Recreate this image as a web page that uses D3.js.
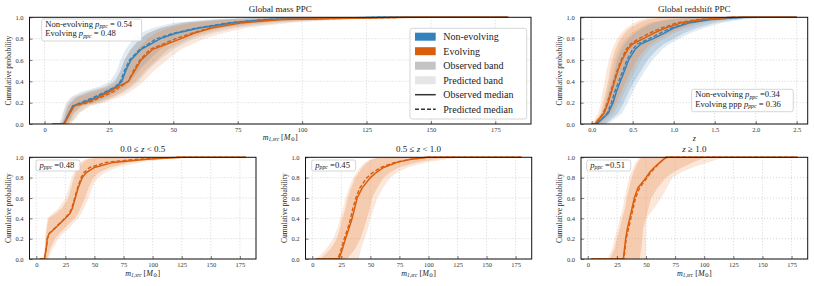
<!DOCTYPE html>
<html>
<head>
<meta charset="utf-8">
<script src="https://cdn.jsdelivr.net/npm/d3@7"></script>
<style>
  body { margin: 0; background: #fff; }
  svg { font-family: "Liberation Serif", "DejaVu Serif", serif; }
</style>
</head>
<body>
<script>
// ---- data ----
// global mass PPC, probability levels and the mass at each level
const massRange = [3, 180];
const massP = [0, 0.05, 0.1, 0.17, 0.2, 0.25, 0.3, 0.35, 0.4, 0.5, 0.6, 0.7, 0.8, 0.85, 0.9, 0.95, 0.98, 1];
const massNonObs = [7.5, 8.5, 9.5, 11, 15, 20, 24, 28, 30, 31.5, 33.5, 37.5, 45, 51, 60, 73, 87, 130];
const massNonPred = [7.5, 8.5, 9.5, 11, 14, 19, 23.5, 27.5, 29.5, 31, 33, 37, 43.5, 50, 59, 72, 86, 130];
const massNonObsLo = [6.5, 7.5, 8, 9, 10, 12, 17, 24, 27.5, 29.5, 31, 33.5, 37, 40, 45, 54, 68, 90];
const massNonObsHi = [8.5, 10, 11, 14, 19, 24, 28, 31, 33.5, 36.5, 40.5, 45, 52, 58, 66, 82, 100, 150];
const massNonPredLo = [5.5, 6.5, 7, 8, 8.5, 10, 14, 21, 25.5, 28, 29.5, 31.5, 34.5, 37, 42, 50, 63, 82];
const massNonPredHi = [9.5, 11.5, 13, 17, 22, 27, 31, 34, 36.5, 40, 44.5, 50, 58, 65, 74, 92, 112, 165];
const massEvoObs = [7.5, 8.7, 9.8, 11.5, 16, 21, 25, 28.5, 32.5, 35, 37.5, 42, 53, 58, 65, 77, 92, 140];
const massEvoPred = [7.5, 8.7, 9.8, 11.5, 17, 22, 26.5, 29.5, 32.5, 34.5, 37, 41, 51, 57, 64, 76, 91, 140];
const massEvoObsLo = [6.8, 7.8, 8.3, 9.3, 10.5, 13, 19, 26, 29, 31.5, 33, 36, 40, 43, 48, 57, 72, 95];
const massEvoObsHi = [9, 10.5, 11.5, 15, 20, 26, 30, 33, 35.5, 39, 43.5, 48, 56, 62, 70, 86, 105, 155];
const massEvoPredLo = [5.8, 6.8, 7.3, 8.3, 9, 11, 16, 23, 27, 29.5, 31, 33.5, 37, 40, 45, 53, 67, 88];
const massEvoPredHi = [10, 12, 13.5, 18, 23, 29, 33, 36, 38.5, 42.5, 47.5, 53, 62, 69, 78, 96, 116, 170];

// global redshift PPC
const zRange = [0, 2.5];
const zP = [0, 0.1, 0.2, 0.3, 0.4, 0.5, 0.6, 0.7, 0.75, 0.8, 0.85, 0.9, 0.95, 0.98, 1];
const zNonObs = [0.06, 0.2, 0.26, 0.3, 0.35, 0.4, 0.45, 0.53, 0.6, 0.75, 0.88, 1.0, 1.2, 1.45, 1.85];
const zNonPred = [0.06, 0.19, 0.24, 0.28, 0.33, 0.38, 0.43, 0.5, 0.56, 0.7, 0.83, 0.97, 1.17, 1.42, 1.85];
const zNonObsLo = [0.04, 0.14, 0.18, 0.21, 0.25, 0.28, 0.31, 0.36, 0.4, 0.45, 0.52, 0.62, 0.75, 0.95, 1.3];
const zNonObsHi = [0.17, 0.32, 0.39, 0.45, 0.52, 0.6, 0.68, 0.8, 0.88, 1.0, 1.12, 1.28, 1.5, 1.75, 2.1];
const zNonPredLo = [0.02, 0.12, 0.16, 0.19, 0.22, 0.25, 0.28, 0.33, 0.36, 0.41, 0.48, 0.58, 0.7, 0.9, 1.2];
const zNonPredHi = [0.2, 0.37, 0.44, 0.5, 0.57, 0.65, 0.74, 0.86, 0.95, 1.07, 1.2, 1.37, 1.6, 1.85, 2.2];
const zEvoObs = [0.04, 0.15, 0.2, 0.24, 0.28, 0.32, 0.37, 0.44, 0.5, 0.63, 0.75, 0.9, 1.1, 1.35, 1.7];
const zEvoPred = [0.04, 0.14, 0.19, 0.23, 0.27, 0.31, 0.36, 0.42, 0.47, 0.58, 0.7, 0.85, 1.05, 1.3, 1.7];
const zEvoObsLo = [0.02, 0.11, 0.14, 0.17, 0.2, 0.22, 0.25, 0.29, 0.32, 0.35, 0.4, 0.47, 0.58, 0.68, 0.85];
const zEvoObsHi = [0.1, 0.23, 0.3, 0.36, 0.42, 0.48, 0.55, 0.65, 0.72, 0.82, 0.95, 1.1, 1.3, 1.55, 1.9];
const zEvoPredLo = [0.0, 0.08, 0.11, 0.13, 0.16, 0.18, 0.21, 0.25, 0.28, 0.31, 0.36, 0.42, 0.52, 0.6, 0.72];
const zEvoPredHi = [0.13, 0.27, 0.34, 0.4, 0.46, 0.53, 0.6, 0.7, 0.78, 0.88, 1.0, 1.17, 1.38, 1.65, 2.0];

// mass PPC in redshift bins (evolving model only)
const binLowP = [0, 0.1, 0.2, 0.25, 0.3, 0.4, 0.45, 0.5, 0.6, 0.7, 0.75, 0.8, 0.85, 0.9, 0.95, 0.98, 1];
const binLowObs = [7, 8.5, 9.5, 11, 16, 25, 29, 31, 33.5, 36, 37.7, 39.5, 43, 50, 66, 95, 125];
const binLowPred = [7, 8.5, 9.5, 11, 15.5, 24.5, 28.5, 30.5, 33, 35.5, 37, 38.5, 41, 46, 60, 85, 120];
const binLowObsLo = [6.5, 7.5, 8, 8.5, 9, 10.5, 17, 22, 27.5, 30, 31, 32.5, 34, 36.5, 40, 44, 55];
const binLowObsHi = [9.5, 12, 16, 20, 24, 33, 36, 38, 42, 45, 47, 49, 54, 63, 80, 100, 140];
const binLowPredLo = [6, 7, 7.5, 8, 8.5, 9.5, 14, 19, 25, 28, 29, 30.5, 32, 34, 37, 42, 50];
const binLowPredHi = [10.5, 14, 19, 23, 28, 36, 39, 41, 45, 48, 50, 53, 59, 69, 88, 110, 150];

const binP = [0, 0.1, 0.2, 0.3, 0.4, 0.5, 0.6, 0.7, 0.8, 0.85, 0.9, 0.95, 0.98, 1];
const binMidObs = [23, 26, 28.6, 31.5, 34.3, 36.5, 38.6, 43, 50, 55, 61.4, 73, 85, 99];
const binMidPred = [22, 25, 27.5, 30.5, 33, 35, 37.5, 41, 47, 52, 59, 71, 84, 99];
const binMidObsLo = [7, 16, 21, 24, 26, 28.6, 30.5, 33.5, 37, 40, 43, 47, 52, 58];
const binMidObsHi = [30, 37, 41.4, 44.5, 47.1, 49.5, 51.4, 56, 61.4, 67, 74.3, 90, 105, 124];
const binMidPredLo = [4, 12, 18, 21.5, 24, 26.5, 28.5, 31.5, 35, 38, 41, 45, 50, 55];
const binMidPredHi = [40, 42, 45, 48, 50, 53, 56, 61, 67, 73, 82, 98, 115, 135];

const binHighObs = [30.5, 31.5, 32.5, 34, 36, 38, 40, 43, 50, 53, 57, 62, 65, 67];
const binHighPred = [31, 32, 33, 35, 37, 39, 41, 44.5, 51, 54, 58, 62, 65, 68];
const binHighObsLo = [19, 23, 25, 27.5, 29.5, 32, 33.5, 35.5, 37.6, 39, 41, 43, 45, 46];
const binHighObsHi = [44.5, 46, 46.8, 47.4, 50, 52, 54.5, 60, 67, 73, 81, 90, 97, 101];
const binHighPredLo = [17, 21, 23, 25.5, 27.5, 30, 31.5, 33.5, 35.5, 37, 39, 41, 43, 44];
const binHighPredHi = [50, 50, 50, 50, 50.5, 57, 63, 68, 72.6, 80, 90, 103, 112, 118];

const massTicks = [0, 25, 50, 75, 100, 125, 150, 175];
const zTicks = [0, 0.5, 1.0, 1.5, 2.0, 2.5];
const probTicks = [0, 0.2, 0.4, 0.6, 0.8, 1.0];
const legendLabels = ["Non-evolving", "Evolving", "Observed band", "Predicted band", "Observed median", "Predicted median"];

const blue = "#3182bd";
const orange = "#d95f0e";
const blueBand = "#6d9cc0";
const orangeBand = "#ec8a4c";

// ---- drawing ----
const w = 814, h = 286;
const svg = d3.select("body").append("svg")
  .attr("width", w)
  .attr("height", h);

// text with italic pieces and subscripts
function richText(g, x, y, parts, size, anchor) {
  const t = g.append("text")
    .attr("x", x).attr("y", y)
    .attr("font-size", size)
    .attr("fill", "#222")
    .attr("text-anchor", anchor || "start");
  let sub = false;
  parts.forEach(p => {
    const s = t.append("tspan").text(p.t);
    if (p.i) s.attr("font-style", "italic");
    if (p.sub) {
      s.attr("font-size", size * 0.68);
      if (!sub) s.attr("dy", size * 0.18);
      sub = true;
    } else if (sub) {
      s.attr("dy", -size * 0.18);
      sub = false;
    }
  });
  return t;
}

const massLabel = [{t: "m", i: true}, {t: "1,src", i: true, sub: true}, {t: " ["}, {t: "M", i: true}, {t: "⊙", sub: true}, {t: "]"}];

let clipId = 0;
function panel(cfg) {
  const g = svg.append("g");
  const x = d3.scaleLinear().domain(cfg.xDomain).range([cfg.left, cfg.right]);
  const y = d3.scaleLinear().domain([0, 1]).range([cfg.bottom, cfg.top]);

  // grid
  g.selectAll(".gx").data(cfg.xTicks).enter().append("line")
    .attr("x1", d => x(d)).attr("x2", d => x(d))
    .attr("y1", cfg.top).attr("y2", cfg.bottom)
    .attr("stroke", "#bbb").attr("stroke-width", 0.6).attr("stroke-dasharray", "1,2");
  g.selectAll(".gy").data(probTicks).enter().append("line")
    .attr("x1", cfg.left).attr("x2", cfg.right)
    .attr("y1", d => y(d)).attr("y2", d => y(d))
    .attr("stroke", "#bbb").attr("stroke-width", 0.6).attr("stroke-dasharray", "1,2");

  clipId++;
  svg.append("clipPath").attr("id", "clip" + clipId)
    .append("rect").attr("x", cfg.left).attr("y", cfg.top - 2)
    .attr("width", cfg.right - cfg.left).attr("height", cfg.bottom - cfg.top + 2);
  const plot = g.append("g").attr("clip-path", "url(#clip" + clipId + ")");

  const area = d3.area()
    .y(d => y(d.p)).x0(d => x(d.lo)).x1(d => x(d.hi));
  const line = d3.line().x(d => x(d.v)).y(d => y(d.p));

  const band = (lo, hi) => cfg.P.map((p, i) => ({p: p, lo: lo[i], hi: hi[i]}));
  const curve = (v) => [{v: cfg.range[0], p: 0}]
    .concat(cfg.P.map((p, i) => ({v: v[i], p: p})))
    .concat([{v: cfg.range[1], p: 1}]);

  cfg.series.forEach(s => {
    plot.append("path").datum(band(s.predLo, s.predHi))
      .attr("d", area).attr("fill", s.band).attr("fill-opacity", 0.2);
  });
  cfg.series.forEach(s => {
    plot.append("path").datum(band(s.obsLo, s.obsHi))
      .attr("d", area).attr("fill", s.band).attr("fill-opacity", 0.3);
  });
  cfg.series.forEach(s => {
    plot.append("path").datum(curve(s.pred))
      .attr("d", line).attr("fill", "none").attr("stroke", s.color)
      .attr("stroke-width", 1.4).attr("stroke-dasharray", "4,2");
    plot.append("path").datum(curve(s.obs))
      .attr("d", line).attr("fill", "none").attr("stroke", s.color)
      .attr("stroke-width", 1.5);
  });

  // axes
  const xAxis = d3.axisBottom(x).tickValues(cfg.xTicks).tickFormat(cfg.fmt)
    .tickSizeInner(-3).tickSizeOuter(0).tickPadding(3);
  const yAxis = d3.axisLeft(y).tickValues(probTicks).tickFormat(d3.format(".1f"))
    .tickSizeInner(-3).tickSizeOuter(0).tickPadding(6);
  const gx = g.append("g").attr("transform", "translate(0," + cfg.bottom + ")").call(xAxis);
  const gy = g.append("g").attr("transform", "translate(" + cfg.left + ",0)").call(yAxis);
  [gx, gy].forEach(a => {
    a.select(".domain").remove();
    a.selectAll("text").attr("font-family", "Liberation Serif, serif").attr("font-size", 6.5).attr("fill", "#333");
    a.selectAll("line").attr("stroke", "#222").attr("stroke-width", 0.6);
  });

  g.append("rect")
    .attr("x", cfg.left).attr("y", cfg.top)
    .attr("width", cfg.right - cfg.left).attr("height", cfg.bottom - cfg.top)
    .attr("fill", "none").attr("stroke", "#111").attr("stroke-width", 1);

  // y label
  g.append("text")
    .attr("transform", "translate(" + (cfg.left - 19) + "," + ((cfg.top + cfg.bottom) / 2) + ") rotate(-90)")
    .attr("text-anchor", "middle").attr("font-size", 7.5).attr("fill", "#222")
    .text("Cumulative probability");

  // title and x label
  richText(g, (cfg.left + cfg.right) / 2, cfg.top - 5, cfg.title, 9, "middle");
  richText(g, (cfg.left + cfg.right) / 2, cfg.bottom + cfg.xlabDy, cfg.xlabel, 8, "middle");

  // p-value box
  const b = cfg.box;
  g.append("rect").attr("x", b.x).attr("y", b.y).attr("width", b.w).attr("height", b.h)
    .attr("rx", 2).attr("fill", "#fff").attr("fill-opacity", 0.85)
    .attr("stroke", "#ccc").attr("stroke-width", 0.8);
  b.lines.forEach((ln, i) => {
    richText(g, b.x + 3.5, b.y + 7.8 + i * 9.4, ln, 8.6);
  });
  return g;
}

const massDomain = [-5.85, 188.85];

panel({
  left: 29.5, right: 531, top: 17.3, bottom: 124,
  xDomain: massDomain, xTicks: massTicks, fmt: d3.format("d"),
  P: massP, range: massRange, xlabDy: 16,
  title: [{t: "Global mass PPC"}], xlabel: massLabel,
  series: [
    {color: blue, band: blueBand, obs: massNonObs, pred: massNonPred, obsLo: massNonObsLo, obsHi: massNonObsHi, predLo: massNonPredLo, predHi: massNonPredHi},
    {color: orange, band: orangeBand, obs: massEvoObs, pred: massEvoPred, obsLo: massEvoObsLo, obsHi: massEvoObsHi, predLo: massEvoPredLo, predHi: massEvoPredHi}
  ],
  box: {x: 41.7, y: 19, w: 100, h: 22, lines: [
    [{t: "Non-evolving "}, {t: "p", i: true}, {t: "ppc", i: true, sub: true}, {t: " = 0.54"}],
    [{t: "Evolving "}, {t: "p", i: true}, {t: "ppc", i: true, sub: true}, {t: " = 0.48"}]
  ]}
});

panel({
  left: 580.7, right: 807.7, top: 17.3, bottom: 124,
  xDomain: [-0.134, 2.634], xTicks: zTicks, fmt: d3.format(".1f"),
  P: zP, range: zRange, xlabDy: 16.5,
  title: [{t: "Global redshift PPC"}], xlabel: [{t: "z", i: true}],
  series: [
    {color: blue, band: blueBand, obs: zNonObs, pred: zNonPred, obsLo: zNonObsLo, obsHi: zNonObsHi, predLo: zNonPredLo, predHi: zNonPredHi},
    {color: orange, band: orangeBand, obs: zEvoObs, pred: zEvoPred, obsLo: zEvoObsLo, obsHi: zEvoObsHi, predLo: zEvoPredLo, predHi: zEvoPredHi}
  ],
  box: {x: 691.7, y: 89.3, w: 101.6, h: 22.4, lines: [
    [{t: "Non-evolving "}, {t: "p", i: true}, {t: "ppc", i: true, sub: true}, {t: " =0.34"}],
    [{t: "Evolving ppp "}, {t: "p", i: true}, {t: "ppc", i: true, sub: true}, {t: " = 0.36"}]
  ]}
});

const bins = [
  {left: 29.5, right: 256, P: binLowP, obs: binLowObs, pred: binLowPred, obsLo: binLowObsLo, obsHi: binLowObsHi, predLo: binLowPredLo, predHi: binLowPredHi,
   title: [{t: "0.0 ≤ "}, {t: "z", i: true}, {t: " < 0.5"}], pval: " =0.48", bx: 36},
  {left: 305.5, right: 531.7, P: binP, obs: binMidObs, pred: binMidPred, obsLo: binMidObsLo, obsHi: binMidObsHi, predLo: binMidPredLo, predHi: binMidPredHi,
   title: [{t: "0.5 ≤ "}, {t: "z", i: true}, {t: " < 1.0"}], pval: " =0.45", bx: 311.7},
  {left: 581, right: 807.7, P: binP, obs: binHighObs, pred: binHighPred, obsLo: binHighObsLo, obsHi: binHighObsHi, predLo: binHighPredLo, predHi: binHighPredHi,
   title: [{t: "z", i: true}, {t: " ≥ 1.0"}], pval: " =0.51", bx: 586.7}
];

bins.forEach(b => {
  panel({
    left: b.left, right: b.right, top: 157.3, bottom: 259,
    xDomain: massDomain, xTicks: massTicks, fmt: d3.format("d"),
    P: b.P, range: massRange, xlabDy: 17,
    title: b.title, xlabel: massLabel,
    series: [{color: orange, band: orangeBand, obs: b.obs, pred: b.pred, obsLo: b.obsLo, obsHi: b.obsHi, predLo: b.predLo, predHi: b.predHi}],
    box: {x: b.bx, y: 160, w: 44, h: 11, lines: [
      [{t: "p", i: true}, {t: "ppc", i: true, sub: true}, {t: b.pval}]
    ]}
  });
});

// legend in the mass panel
const lg = svg.append("g");
lg.append("rect").attr("x", 410).attr("y", 28.3).attr("width", 116.7).attr("height", 90.7)
  .attr("rx", 2.5).attr("fill", "#fff").attr("fill-opacity", 0.85)
  .attr("stroke", "#ccc").attr("stroke-width", 0.8);
const legendStyle = [
  {type: "patch", fill: blue},
  {type: "patch", fill: orange},
  {type: "patch", fill: "#c4c4c4"},
  {type: "patch", fill: "#e6e6e6"},
  {type: "line", dash: null},
  {type: "line", dash: "4,2"}
];
legendLabels.forEach((lab, i) => {
  const cy = 36.7 + i * 14.5;
  const st = legendStyle[i];
  if (st.type === "patch") {
    lg.append("rect").attr("x", 415).attr("y", cy - 4).attr("width", 20.7).attr("height", 8).attr("fill", st.fill);
  } else {
    lg.append("line").attr("x1", 415).attr("x2", 435.7).attr("y1", cy).attr("y2", cy)
      .attr("stroke", "#333").attr("stroke-width", 1.5).attr("stroke-dasharray", st.dash);
  }
  lg.append("text").attr("x", 443.3).attr("y", cy + 3.5).attr("font-size", 10).attr("fill", "#222").text(lab);
});
</script>
</body>
</html>
